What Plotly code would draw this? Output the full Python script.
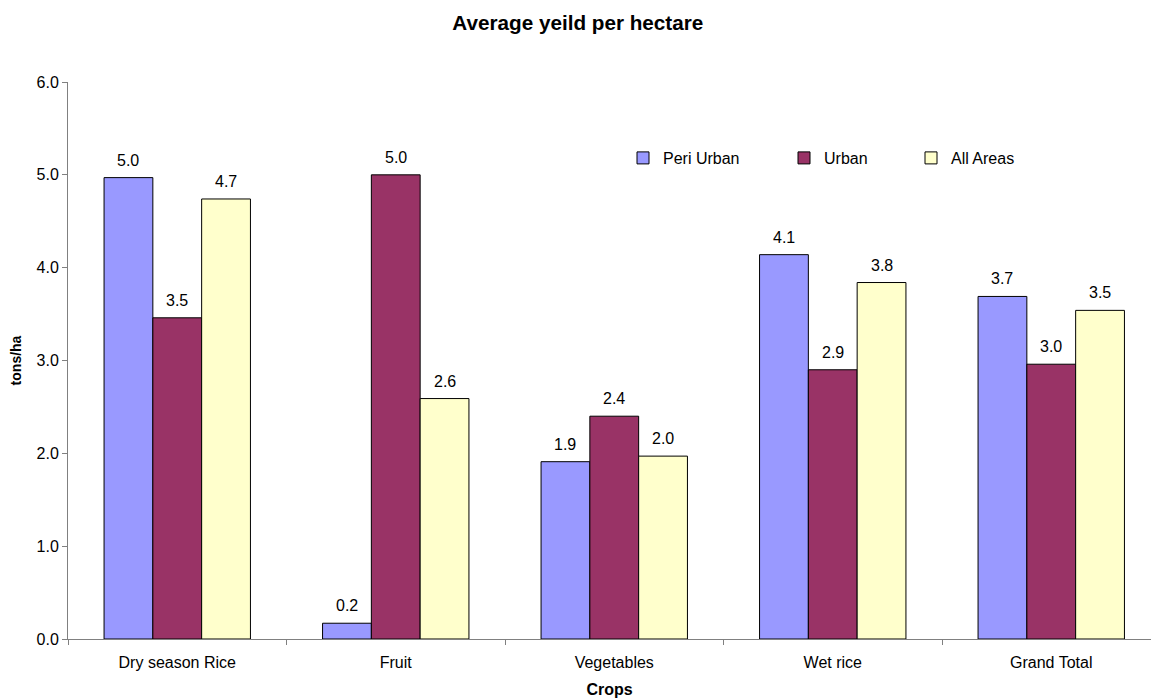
import plotly.graph_objects as go

# Average yield per hectare by crop and area type (tons/ha)
crops = ["Dry season Rice", "Fruit", "Vegetables", "Wet rice", "Grand Total"]
peri_urban = [4.97, 0.17, 1.91, 4.14, 3.69]
urban = [3.46, 5.00, 2.40, 2.90, 2.96]
all_areas = [4.74, 2.59, 1.97, 3.84, 3.54]
y_ticks = [0, 1, 2, 3, 4, 5, 6]

series = [
    ("Peri Urban", peri_urban, "#9999FF", "legend"),
    ("Urban", urban, "#993366", "legend2"),
    ("All Areas", all_areas, "#FFFFCC", "legend3"),
]

FONT = "Liberation Sans, Arial, sans-serif"
BARGAP = 0.33

fig = go.Figure()
for name, vals, color, leg in series:
    fig.add_trace(go.Bar(
        name=name, x=crops, y=vals,
        marker=dict(color=color, line=dict(color="black", width=1)),
        legend=leg, showlegend=True,
    ))

# value labels above each bar, offset to the bar's slot within its group
slot = (1 - BARGAP) / len(series)
annotations = []
for k, (name, vals, color, leg) in enumerate(series):
    off = (k - (len(series) - 1) / 2) * slot
    for i, v in enumerate(vals):
        annotations.append(dict(
            x=i + off, y=v, xref="x", yref="y", text=f"{v:.1f}",
            showarrow=False, yanchor="bottom", yshift=7,
            font=dict(size=16, color="black", family=FONT),
        ))

legend_style = dict(orientation="h", xanchor="left", yanchor="middle",
                    bgcolor="rgba(0,0,0,0)", font=dict(size=16, color="black", family=FONT))

fig.update_layout(
    width=1151, height=700,
    margin=dict(l=68, r=0, t=82, b=61),
    paper_bgcolor="white", plot_bgcolor="white",
    showlegend=True,
    font=dict(family=FONT, size=16, color="black"),
    title=dict(text="<b>Average yeild per hectare</b>", x=0.502, xref="container",
               xanchor="center", y=0.968, yanchor="middle",
               font=dict(size=20.7, family=FONT, color="black")),
    barmode="group", bargap=BARGAP, bargroupgap=0,
    annotations=annotations,
    legend=dict(x=(623 - 68) / 1083, y=(639 - 158) / 557, **legend_style),
    legend2=dict(x=(784 - 68) / 1083, y=(639 - 158) / 557, **legend_style),
    legend3=dict(x=(911 - 68) / 1083, y=(639 - 158) / 557, **legend_style),
    xaxis=dict(
        type="category", range=[-0.5, -0.5 + 1083 / 218.5],
        showline=True, linecolor="#808080", linewidth=1,
        ticks="outside", tickson="boundaries", ticklen=5, tickcolor="#808080",
        tickfont=dict(size=16, family=FONT, color="black"),
        ticklabelstandoff=9,
        title=dict(text="<b>Crops</b>", standoff=13,
                   font=dict(size=16, family=FONT, color="black")),
        showgrid=False, zeroline=False,
    ),
    yaxis=dict(
        range=[0, 6], tickvals=y_ticks, tickformat=".1f",
        showline=True, linecolor="#808080", linewidth=1,
        ticks="outside", ticklen=5, tickcolor="#808080",
        tickfont=dict(size=16, family=FONT, color="black"),
        title=dict(text="<b>tons/ha</b>", standoff=11,
                   font=dict(size=14, family=FONT, color="black")),
        showgrid=False, zeroline=False,
    ),
)

fig.write_html("out.html")
